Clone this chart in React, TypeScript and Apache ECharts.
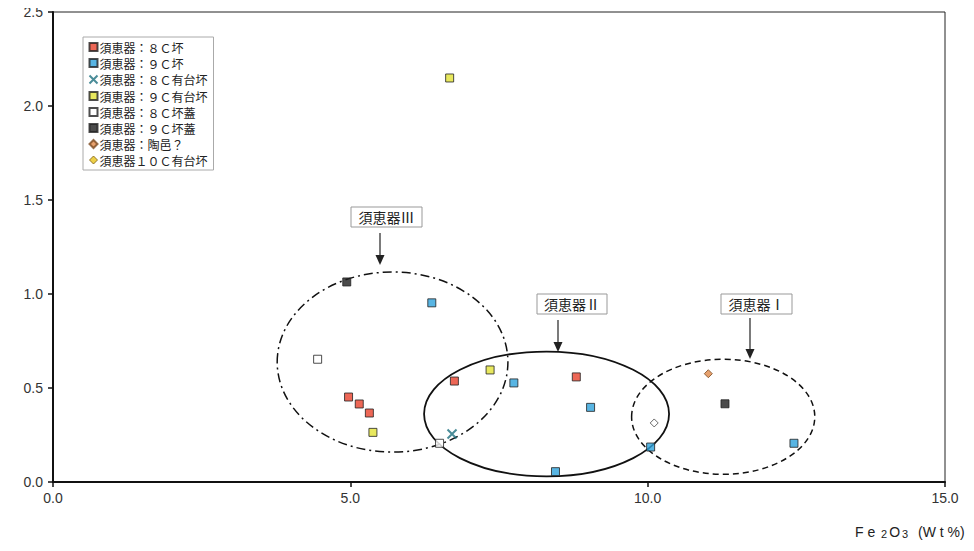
import React, { useEffect, useRef } from "react";
import * as echarts from "echarts";

const seriesNames = [
  "須恵器：８Ｃ坏",
  "須恵器：９Ｃ坏",
  "須恵器：８Ｃ有台坏",
  "須恵器：９Ｃ有台坏",
  "須恵器：８Ｃ坏蓋",
  "須恵器：９Ｃ坏蓋",
  "須恵器：陶邑？",
  "須恵器１０Ｃ有台坏",
];

const s8CCup = [[4.97, 0.452], [5.15, 0.415], [5.32, 0.367], [6.75, 0.537], [8.8, 0.559]];
const s9CCup = [[6.37, 0.953], [7.75, 0.527], [9.04, 0.397], [8.45, 0.055], [10.05, 0.186], [12.46, 0.206]];
const s8CFooted = [[6.71, 0.255]];
const s9CFooted = [[6.67, 2.149], [5.38, 0.264], [7.35, 0.596]];
const s8CLid = [[4.45, 0.653], [6.5, 0.206]];
const s9CLid = [[4.94, 1.064], [11.3, 0.416]];
const sSue = [[11.02, 0.576]];
const s10CFooted = [[10.11, 0.314]];

// group ellipses: [cx, cy, rx, ry] in data units
const ellipses = [
  [5.71, 0.638, 1.94, 0.479],
  [8.3, 0.362, 2.06, 0.332],
  [11.27, 0.347, 1.54, 0.306],
];
const ellipseDash = [[9, 4, 2, 4], null, [6, 4]];

const xTicks = { min: 0, max: 15, interval: 5 };
const yTicks = { min: 0, max: 2.5, interval: 0.5 };

export default function App() {
  const ref = useRef<HTMLDivElement>(null);
  useEffect(() => {
    const chart = echarts.init(ref.current!, undefined, { renderer: "svg" });
    const sq = (name: string, data: number[][], color: string) => ({
      name,
      type: "scatter",
      data,
      symbol: "rect",
      symbolSize: 8,
      itemStyle: { color, borderColor: "#222", borderWidth: 1 },
      z: 5,
    });
    const labelBox = (x: number, y: number, w: number, text: string, ax: number, ay1: number, ay2: number) => [
      {
        type: "rect",
        shape: { x, y, width: w, height: 20 },
        style: { fill: "#fff", stroke: "#999", lineWidth: 1 },
      },
      {
        type: "text",
        x: x + w / 2,
        y: y + 10,
        style: {
          text,
          fill: "#222",
          font: '14px "Noto Sans CJK JP"',
          align: "center",
          verticalAlign: "middle",
        },
      },
      {
        type: "line",
        shape: { x1: ax, y1: ay1, x2: ax, y2: ay2 - 8 },
        style: { stroke: "#222", lineWidth: 1.2 },
      },
      {
        type: "polygon",
        shape: { points: [[ax - 4.5, ay2 - 10], [ax + 4.5, ay2 - 10], [ax, ay2]] },
        style: { fill: "#222" },
      },
    ];
    chart.setOption({
      animation: false,
      backgroundColor: "#fff",
      grid: { left: 53, right: 29, top: 12, bottom: 69, show: true, borderColor: "#222", borderWidth: 1 },
      xAxis: {
        type: "value",
        ...xTicks,
        axisLine: { show: true, lineStyle: { color: "#111", width: 2 } },
        axisTick: { show: true, length: 5, lineStyle: { color: "#111", width: 1.5 } },
        splitLine: { show: false },
        axisLabel: {
          formatter: (v: number) => v.toFixed(1),
          color: "#333",
          fontSize: 14,
          margin: 9,
          fontFamily: "Liberation Sans",
        },
      },
      yAxis: {
        type: "value",
        ...yTicks,
        axisLine: { show: true, lineStyle: { color: "#111", width: 2 } },
        axisTick: { show: true, length: 5, lineStyle: { color: "#111", width: 1.5 } },
        splitLine: { show: false },
        axisLabel: {
          formatter: (v: number) => v.toFixed(1),
          color: "#333",
          fontSize: 14,
          margin: 10,
          fontFamily: "Liberation Sans",
        },
      },
      legend: {
        orient: "vertical",
        left: 83,
        top: 37,
        itemWidth: 8,
        itemHeight: 8,
        itemGap: 4,
        padding: [4, 6, 4, 4],
        backgroundColor: "#fff",
        borderColor: "#aaa",
        borderWidth: 1,
        borderRadius: 0,
        textStyle: { fontSize: 12, color: "#222", fontFamily: '"Noto Sans CJK JP"', padding: [0, 0, 0, -3] },
        data: seriesNames.map((n, i) =>
          i === 7 ? { name: n, itemStyle: { color: "#e8c419", borderColor: "#7a5a10", borderWidth: 1 } } : { name: n }
        ),
      },
      series: [
        {
          type: "custom",
          name: "ellipses",
          data: ellipses.map((e, i) => [...e, i]),
          dimensions: ["x", "y", "rx", "ry", "i"],
          encode: { x: 0, y: 1 },
          silent: true,
          z: 2,
          renderItem: (params: any, api: any) => {
            const c = api.coord([api.value(0), api.value(1)]);
            const s = api.size([api.value(2), api.value(3)]);
            const idx = api.value(4);
            return {
              type: "ellipse",
              shape: { cx: c[0], cy: c[1], rx: s[0], ry: s[1] },
              style: {
                fill: "none",
                stroke: "#111",
                lineWidth: idx === 1 ? 1.8 : 1.5,
                lineDash: ellipseDash[idx] || undefined,
              },
            };
          },
        },
        sq(seriesNames[0], s8CCup, "#e8412c"),
        sq(seriesNames[1], s9CCup, "#2ea3dc"),
        {
          name: seriesNames[2],
          type: "scatter",
          data: s8CFooted,
          symbol: "path://M0,0L10,10M10,0L0,10",
          symbolSize: 9,
          itemStyle: { color: "none", borderColor: "#1d6f7e", borderWidth: 2 },
          z: 5,
        },
        sq(seriesNames[3], s9CFooted, "#e2e236"),
        sq(seriesNames[4], s8CLid, "#ffffff"),
        sq(seriesNames[5], s9CLid, "#1e1e1e"),
        {
          name: seriesNames[6],
          type: "scatter",
          data: sSue,
          symbol: "diamond",
          symbolSize: 8,
          itemStyle: { color: "#e0894a", borderColor: "#7a4a20", borderWidth: 1 },
          z: 5,
        },
        {
          name: seriesNames[7],
          type: "scatter",
          data: s10CFooted,
          symbol: "diamond",
          symbolSize: 8,
          itemStyle: { color: "#ffffff", borderColor: "#444", borderWidth: 1 },
          z: 5,
        },
      ],
      graphic: [
        ...labelBox(351, 207, 71, "須恵器Ⅲ", 380, 233, 265),
        ...labelBox(537, 294, 70, "須恵器Ⅱ", 558, 320, 352),
        ...labelBox(721, 294, 71, "須恵器Ⅰ", 750, 318, 359),
        {
          type: "text",
          left: 855,
          top: 525,
          style: {
            text: "{a|F e }{s|2}{a|O}{s|3}{a|  (W t %)}",
            rich: {
              a: { fontSize: 14, fill: "#222", fontFamily: "Liberation Sans" },
              s: { fontSize: 11, fill: "#222", fontFamily: "Liberation Sans", padding: [4, 2, 0, 2] },
            },
          },
        },
      ],
    });
    return () => chart.dispose();
  }, []);
  return <div ref={ref} style={{ width: 974, height: 551, margin: -8 }} />;
}
